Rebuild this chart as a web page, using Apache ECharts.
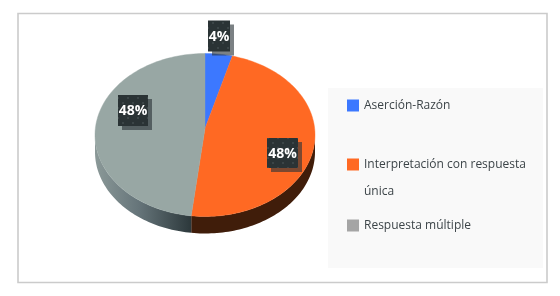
<!DOCTYPE html>
<html><head><meta charset="utf-8">
<style>html,body{margin:0;padding:0;background:#fff}#c{width:560px;height:296px}</style>
<script src="https://cdn.jsdelivr.net/npm/echarts@6/dist/echarts.min.js"></script>
</head><body><div id="c"></div>
<script>
const categories = ['Aserción-Razón', 'Interpretación con respuesta única', 'Respuesta múltiple'];
const values = [4, 48, 48];
const tickLabels = ['4%', '48%', '48%'];
const topColors = ['#3c78ff', '#ff6923', '#98a7a4'];
const legendColors = ['#3c78ff', '#ff6923', '#a5a5a5'];

const cx = 205, cy = 135, rx = 110, ry = 81.5, depth = 17, apex = [205, 128.5];
const labelCenters = [[219, 37], [282.5, 154], [133, 111.5]];
const labelSizes = [[22, 31], [31, 30], [30, 31]];
const boxOffset = 1;
const sideFills = [
  '#333',
  '#401d0a',
  {type:'linear', x:0, y:0, x2:1, y2:0, colorStops:[{offset:0,color:'#8b9998'},{offset:0.45,color:'#66757a'},{offset:1,color:'#2c383b'}]}
];

const pat = document.createElement('canvas');
pat.width = 10; pat.height = 10;
(function(){
  const g = pat.getContext('2d');
  g.fillStyle = '#2a3335'; g.fillRect(0,0,10,10);
  g.fillStyle = '#3b4547';
  g.fillRect(2,2,2,2); g.fillRect(7,7,2,2);
})();

const total = values.reduce((a,b)=>a+b,0);
function arc(a0, a1, dy){
  const n = Math.max(2, Math.ceil((a1-a0)/1.5)), pts = [];
  for (let i=0;i<=n;i++){
    const t = (a0+(a1-a0)*i/n)*Math.PI/180;
    pts.push([cx+rx*Math.sin(t), cy-ry*Math.cos(t)+dy]);
  }
  return pts;
}
function makeRender(idx){
  return function(params, api){
    const v = api.value(0);
    let before = 0;
    for (let i=0;i<idx;i++) before += values[i];
    const a0 = before/total*360, a1 = (before+v)/total*360;
    const children = [];
    const s0 = Math.max(a0,90), s1 = Math.min(a1,270);
    if (s1 > s0){
      const top = arc(s0,s1,0), bot = arc(s0,s1,depth).reverse();
      children.push({type:'polygon', z2:1, shape:{points:top.concat(bot)}, style:{fill:sideFills[idx]}});
    }
    children.push({type:'polygon', z2:2, shape:{points:[apex].concat(arc(a0,a1,0))},
      style:{fill:topColors[idx], stroke:topColors[idx], lineWidth:0.4}});
    const c = labelCenters[idx], s = labelSizes[idx];
    const bx = c[0]-s[0]/2, by = c[1]-s[1]/2-boxOffset;
    children.push({type:'rect', z2:10, shape:{x:bx+4,y:by+4,width:s[0],height:s[1]}, style:{fill:'rgba(42,52,56,0.62)'}});
    children.push({type:'rect', z2:11, shape:{x:bx,y:by,width:s[0],height:s[1]}, style:{fill:{image:pat,repeat:'repeat'}}});
    children.push({type:'text', z2:12, x:c[0], y:c[1], style:{text:tickLabels[idx], fill:'#fff', font:'bold 14px "Open Sans"', align:'center', verticalAlign:'middle'}});
    return {type:'group', children};
  };
}
const legendTops = [92, 124, 212];
const chart = echarts.init(document.getElementById('c'), null, {renderer:'canvas'});
chart.setOption({
  animation:false,
  backgroundColor:'#fff',
  graphic:[
    {type:'rect', z:-1, shape:{x:18,y:13.5,width:529,height:269}, style:{fill:'#fff', stroke:'#cbcbcb', lineWidth:1.6}},
    {type:'rect', z:-1, shape:{x:328,y:88,width:215,height:180}, style:{fill:'#f9f9f9'}}
  ],
  legend: categories.map((name,i)=>({
    orient:'vertical', left:347, top:legendTops[i], itemWidth:12, itemHeight:12, padding:0,
    selectedMode:false, icon:'rect',
    data:[{name, itemStyle:{color:legendColors[i]}}],
    formatter:n=>n.replace('Interpretación con respuesta única','\nInterpretación con respuesta\núnica'),
    textStyle:{color:'#3c4448', fontFamily:'"Open Sans"', fontSize:12, lineHeight:27}
  })),
  series: categories.map((name,i)=>({
    type:'custom', name, coordinateSystem:'none', data:[[values[i]]], renderItem:makeRender(i), silent:true
  }))
});
</script></body></html>
